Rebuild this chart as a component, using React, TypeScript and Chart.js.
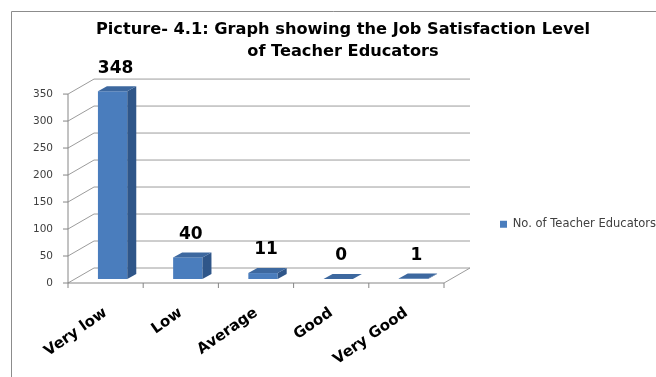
import React, { useEffect, useRef } from "react";
import { Chart, registerables } from "chart.js";

Chart.register(...registerables);

// ---- data ----
const categories = ["Very low", "Low", "Average", "Good", "Very Good"];
const teacherEducators = [348, 40, 11, 0, 1];
const seriesLabel = "No. of Teacher Educators";
const titleLines = [
  "Picture- 4.1: Graph showing the Job Satisfaction Level",
  "of Teacher Educators",
];
const yMin = 0;
const yMax = 350;
const yStep = 50;

// ---- 3D look (offsets relative to the bar plane) ----
const FRONT = { dx: -7, dy: 4 };
const BACK = { dx: 19, dy: -11 };
const BAR_DEPTH = { dx: 9, dy: -5 };

const COLORS = {
  front: "#4a7dbd",
  side: "#2f5689",
  top: "#3d689f",
  grid: "#9c9c9c",
  axis: "#868686",
  border: "#8c8c8c",
};

const FONT = "'DejaVu Sans'";

function line(ctx: CanvasRenderingContext2D, x1: number, y1: number, x2: number, y2: number) {
  ctx.beginPath();
  ctx.moveTo(x1, y1);
  ctx.lineTo(x2, y2);
  ctx.stroke();
}

const frame3d = {
  id: "frame3d",
  beforeDraw(chart: any) {
    const { ctx, width, height } = chart;
    ctx.save();
    ctx.fillStyle = "#ffffff";
    ctx.fillRect(0, 0, width, height);
    ctx.strokeStyle = COLORS.border;
    ctx.lineWidth = 1;
    ctx.beginPath();
    ctx.moveTo(11.5, height);
    ctx.lineTo(11.5, 11.5);
    ctx.lineTo(width, 11.5);
    ctx.stroke();
    ctx.restore();
  },
  beforeDatasetsDraw(chart: any) {
    const { ctx } = chart;
    const xs = chart.scales.x;
    const ys = chart.scales.y;
    const L = xs.left;
    const R = xs.right;
    const y0 = ys.getPixelForValue(yMin);
    const yTop = ys.getPixelForValue(yMax);
    ctx.save();
    ctx.lineWidth = 1;
    ctx.strokeStyle = COLORS.grid;
    for (const t of ys.ticks) {
      const y = ys.getPixelForValue(t.value);
      line(ctx, L + FRONT.dx, y + FRONT.dy, L + BACK.dx, y + BACK.dy);
      line(ctx, L + BACK.dx, y + BACK.dy, R + BACK.dx, y + BACK.dy);
    }
    // floor right edge
    line(ctx, R + FRONT.dx, y0 + FRONT.dy, R + BACK.dx, y0 + BACK.dy);
    // front axes
    ctx.strokeStyle = COLORS.axis;
    line(ctx, L + FRONT.dx, yTop + FRONT.dy, L + FRONT.dx, y0 + FRONT.dy);
    line(ctx, L + FRONT.dx, y0 + FRONT.dy, R + FRONT.dx, y0 + FRONT.dy);
    for (const t of ys.ticks) {
      const y = ys.getPixelForValue(t.value);
      line(ctx, L + FRONT.dx - 5, y + FRONT.dy, L + FRONT.dx, y + FRONT.dy);
    }
    const n = categories.length;
    for (let i = 0; i <= n; i++) {
      const x = L + ((R - L) * i) / n + FRONT.dx;
      line(ctx, x, y0 + FRONT.dy, x, y0 + FRONT.dy + 5);
    }
    ctx.restore();
  },
  afterDatasetsDraw(chart: any) {
    const { ctx } = chart;
    const meta = chart.getDatasetMeta(0);
    ctx.save();
    meta.data.forEach((bar: any, i: number) => {
      const { x, y, base, width } = bar.getProps(["x", "y", "base", "width"], true);
      const left = x - width / 2;
      const right = x + width / 2;
      // side face
      ctx.fillStyle = COLORS.side;
      ctx.beginPath();
      ctx.moveTo(right, y);
      ctx.lineTo(right + BAR_DEPTH.dx, y + BAR_DEPTH.dy);
      ctx.lineTo(right + BAR_DEPTH.dx, base + BAR_DEPTH.dy);
      ctx.lineTo(right, base);
      ctx.closePath();
      ctx.fill();
      // top face
      ctx.fillStyle = COLORS.top;
      ctx.beginPath();
      ctx.moveTo(left, y);
      ctx.lineTo(left + BAR_DEPTH.dx, y + BAR_DEPTH.dy);
      ctx.lineTo(right + BAR_DEPTH.dx, y + BAR_DEPTH.dy);
      ctx.lineTo(right, y);
      ctx.closePath();
      ctx.fill();
      // value label
      ctx.fillStyle = "#000000";
      ctx.font = `bold 17px ${FONT}`;
      ctx.textAlign = "center";
      ctx.textBaseline = "middle";
      ctx.fillText(String(teacherEducators[i]), x + 3, y - 23);
    });
    ctx.restore();
  },
};

export default function App() {
  const ref = useRef<HTMLCanvasElement>(null);
  useEffect(() => {
    const canvas = ref.current;
    if (!canvas) return;
    const chart = new Chart(canvas, {
      type: "bar",
      data: {
        labels: categories,
        datasets: [
          {
            label: seriesLabel,
            data: teacherEducators,
            backgroundColor: COLORS.front,
            borderWidth: 0,
            barPercentage: 0.39,
            categoryPercentage: 1,
          },
        ],
      },
      plugins: [frame3d],
      options: {
        responsive: false,
        animation: false,
        devicePixelRatio: 1,
        layout: { padding: { left: 30, right: 0, top: 0, bottom: 0 } },
        plugins: {
          tooltip: { enabled: false },
          title: {
            display: true,
            text: titleLines,
            color: "#000000",
            font: { family: FONT, size: 16.2, weight: "bold", lineHeight: 1.36 },
            padding: { top: 19, bottom: 27 },
          },
          legend: {
            display: true,
            position: "right",
            align: "end",
            fullSize: false,
            maxWidth: 205,
            labels: {
              boxWidth: 7,
              boxHeight: 7,
              padding: 49,
              color: "#404040",
              font: { family: FONT, size: 11.5 },
            },
          },
        },
        scales: {
          x: {
            grid: { display: false, drawTicks: false },
            border: { display: false },
            ticks: {
              color: "#000000",
              font: { family: FONT, size: 15, weight: "bold" },
              minRotation: 35,
              maxRotation: 35,
              autoSkip: false,
              padding: 25,
              labelOffset: -7,
            },
            afterFit: (scale: any) => {
              scale.height = 98;
            },
          },
          y: {
            min: yMin,
            max: yMax,
            grid: { display: false, drawTicks: false },
            border: { display: false },
            ticks: {
              stepSize: yStep,
              color: "#404040",
              font: { family: FONT, size: 10.5 },
              padding: 22,
              labelOffset: 4,
            },
            afterFit: (scale: any) => {
              scale.width = 45;
            },
          },
        },
      },
    } as any);
    return () => chart.destroy();
  }, []);

  return (
    <>
      <style>{`html,body{margin:0;padding:0;overflow:hidden;background:#fff}`}</style>
      <div style={{ position: "relative", width: 656, height: 377 }}>
        <canvas ref={ref} width={656} height={377} style={{ display: "block" }} />
      </div>
    </>
  );
}
